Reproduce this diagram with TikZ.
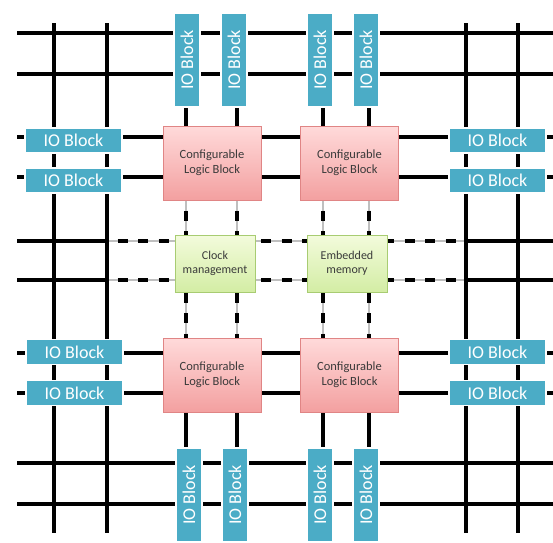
\documentclass[tikz,border=0pt]{standalone}
\usepackage{fontspec}
\setmainfont{Carlito}
\usetikzlibrary{shadows}
\definecolor{ioblue}{HTML}{4BACC6}
\definecolor{clbtop}{HTML}{FFDADA}
\definecolor{clbbot}{HTML}{F3A0A0}
\definecolor{clbedge}{HTML}{E08585}
\definecolor{greentop}{HTML}{F3FBDC}
\definecolor{greenbot}{HTML}{D3EDA4}
\definecolor{greenedge}{HTML}{A8CC72}
\definecolor{txt}{HTML}{3A3A3A}
\begin{document}
\begin{tikzpicture}[x=1pt,y=-1pt,
  bus/.style={line width=3.6pt, black},
  dbus/.style={line width=3.6pt, black, dash pattern=on 10pt off 10.5pt, dash phase=10pt},
  ghost/.style={line width=1.2pt, black!25},
  iob/.style={fill=ioblue, draw=white, line width=1.5pt, text=white,
    font=\fontsize{18}{21}\selectfont, inner sep=0pt,
    drop shadow={opacity=0.3, shadow xshift=0.8pt, shadow yshift=-0.8pt}},
  ioh/.style={iob, minimum width=97pt, minimum height=25pt},
  iov/.style={iob, rotate=90, minimum width=94pt, minimum height=26pt},
  clb/.style={draw=clbedge, line width=0.8pt, top color=clbtop, bottom color=clbbot,
    minimum width=98pt, minimum height=74pt, align=center, text=txt,
    font=\fontsize{12.5}{15}\selectfont},
  aux/.style={draw=greenedge, line width=0.8pt, top color=greentop, bottom color=greenbot,
    minimum width=80pt, minimum height=57pt, align=center, text=txt,
    font=\fontsize{12}{14}\selectfont}
]
\clip (0,0) rectangle (553,542);
\fill[white] (0,0) rectangle (553,542);

% full horizontal buses
\foreach \y in {33,74,137,177,353,393,463,504}
  \draw[bus] (17,\y) -- (553,\y);
% dashed rows
\foreach \y in {241,280}{
  \draw[bus] (17,\y) -- (107,\y);
  \draw[bus] (466,\y) -- (553,\y);
  \draw[ghost] (107,\y) -- (466,\y);
  \draw[dbus] (107,\y) -- (466,\y);
}
% full vertical buses
\foreach \x in {54,107,466,518}
  \draw[bus] (\x,23) -- (\x,533);
% inner vertical buses
\foreach \x in {186,237,323,369}{
  \draw[bus] (\x,13) -- (\x,200);
  \draw[ghost] (\x,200) -- (\x,338);
  \draw[dbus] (\x,200) -- (\x,338);
  \draw[bus] (\x,338) -- (\x,545);
}

% logic blocks
\node[clb] (clb1) at (212,163) {Configurable\\Logic Block};
\node[clb] (clb2) at (349.5,163) {Configurable\\Logic Block};
\node[clb] (clb3) at (212,375) {Configurable\\Logic Block};
\node[clb] (clb4) at (349.5,375) {Configurable\\Logic Block};
\node[aux] (clk) at (215,263.5) {Clock\\management};
\node[aux] (mem) at (347,263.5) {Embedded\\memory};

% IO blocks, top and bottom
\node[iov] (iot1) at (187,60) {IO Block};
\node[iov] (iot2) at (234,60) {IO Block};
\node[iov] (iot3) at (320,60) {IO Block};
\node[iov] (iot4) at (366,60) {IO Block};
\node[iov] (iob1) at (189,495) {IO Block};
\node[iov] (iob2) at (235,495) {IO Block};
\node[iov] (iob3) at (320,495) {IO Block};
\node[iov] (iob4) at (366,495) {IO Block};
% IO blocks, left and right
\node[ioh] (iol1) at (73.5,140.5) {IO Block};
\node[ioh] (iol2) at (73.5,180.5) {IO Block};
\node[ioh] (iol3) at (74.5,352) {IO Block};
\node[ioh] (iol4) at (74.5,393) {IO Block};
\node[ioh] (ior1) at (497.5,140.5) {IO Block};
\node[ioh] (ior2) at (497.5,180.5) {IO Block};
\node[ioh] (ior3) at (497.5,352) {IO Block};
\node[ioh] (ior4) at (497.5,393) {IO Block};
\end{tikzpicture}
\end{document}
